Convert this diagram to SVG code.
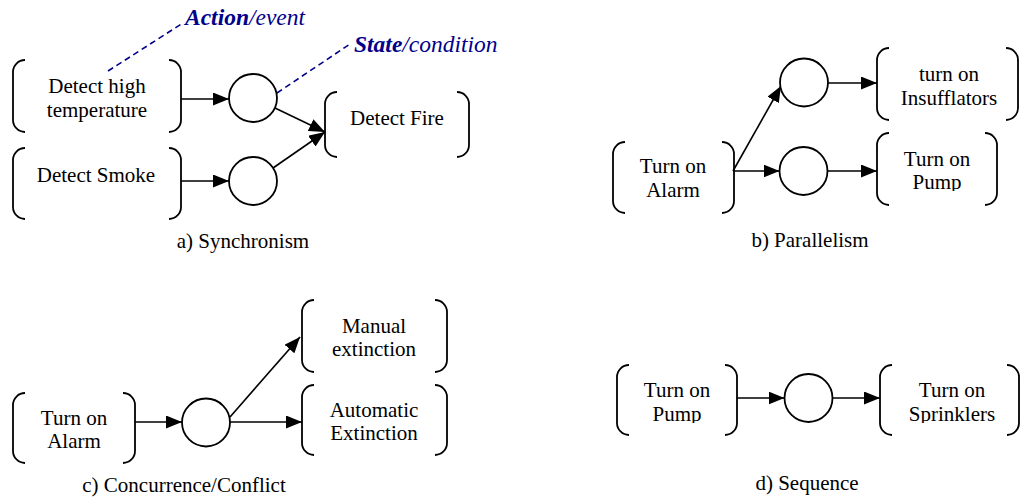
<svg xmlns="http://www.w3.org/2000/svg" width="1020" height="499" viewBox="0 0 1020 499" font-family="Liberation Serif, serif">
<style>
.br{fill:none;stroke:#000;stroke-width:1.8}
.pl{fill:#fff;stroke:#000;stroke-width:1.8}
.t{font-size:21px;fill:#000;text-anchor:middle}
.c{stroke:#000;stroke-width:1.6;fill:none;marker-end:url(#ah)}
.d{stroke:#00008B;stroke-width:1.6;stroke-dasharray:6 4;fill:none}
.n{font-size:23.5px;fill:#00008B;font-style:italic}
</style>
<defs>
<marker id="ah" markerUnits="userSpaceOnUse" markerWidth="17" markerHeight="13" refX="16" refY="6.5" orient="auto">
<path d="M0,0 L16,6.5 L0,13 z" fill="#000"/>
</marker>
<clipPath id="cpb"><rect x="870" y="130" width="140" height="61"/></clipPath>
<clipPath id="cpd1"><rect x="610" y="360" width="140" height="63"/></clipPath>
<clipPath id="cpd2"><rect x="875" y="360" width="145" height="63"/></clipPath>
</defs>
<rect width="1020" height="499" fill="#fff"/>

<g id="connectors">
<line class="c" x1="181" y1="99" x2="229" y2="99"/>
<line class="c" x1="181" y1="181" x2="229" y2="181"/>
<line class="c" x1="275" y1="108" x2="325" y2="132"/>
<line class="c" x1="273" y1="168" x2="325" y2="132"/>
<line class="c" x1="733" y1="171" x2="779.5" y2="171"/>
<line class="c" x1="733" y1="171" x2="781" y2="86"/>
<line class="c" x1="828" y1="83" x2="877" y2="83"/>
<line class="c" x1="827.5" y1="171" x2="877" y2="171"/>
<line class="c" x1="135" y1="422" x2="182" y2="422"/>
<line class="c" x1="230" y1="422" x2="302" y2="422"/>
<line class="c" x1="230" y1="417" x2="300" y2="337"/>
<line class="c" x1="737" y1="398" x2="784.5" y2="398"/>
<line class="c" x1="832.5" y1="398" x2="880" y2="398"/>
<line class="d" x1="108" y1="71" x2="183" y2="23"/>
<line class="d" x1="277" y1="93" x2="350" y2="44"/>
</g>

<g id="lbl-action"><text class="n" x="185" y="25"><tspan font-weight="bold">Action</tspan>/event</text></g>
<g id="lbl-state"><text class="n" x="354" y="52"><tspan font-weight="bold">State</tspan>/condition</text></g>

<g id="a-high-temp">
<path class="br" d="M25,60 A12,12 0 0 0 13,72 V120 A12,12 0 0 0 25,132"/>
<path class="br" d="M169,60 A12,12 0 0 1 181,72 V120 A12,12 0 0 1 169,132"/>
<text class="t" x="97" y="93">Detect high</text>
<text class="t" x="97" y="117">temperature</text>
</g>
<g id="a-smoke">
<path class="br" d="M25,148 A12,12 0 0 0 13,160 V207 A12,12 0 0 0 25,219"/>
<path class="br" d="M169,148 A12,12 0 0 1 181,160 V207 A12,12 0 0 1 169,219"/>
<text class="t" x="96" y="182">Detect Smoke</text>
</g>
<g id="a-fire">
<path class="br" d="M337,92 A12,12 0 0 0 325,104 V145 A12,12 0 0 0 337,157"/>
<path class="br" d="M457,92 A12,12 0 0 1 469,104 V145 A12,12 0 0 1 457,157"/>
<text class="t" x="397" y="125">Detect Fire</text>
</g>
<g id="a-p1"><circle class="pl" cx="253" cy="98" r="24"/></g>
<g id="a-p2"><circle class="pl" cx="253" cy="181" r="24"/></g>
<g id="cap-a"><text class="t" x="243" y="248">a) Synchronism</text></g>

<g id="b-alarm">
<path class="br" d="M625,142 A12,12 0 0 0 613,154 V201 A12,12 0 0 0 625,213"/>
<path class="br" d="M722,142 A12,12 0 0 1 734,154 V201 A12,12 0 0 1 722,213"/>
<text class="t" x="673" y="173">Turn on</text>
<text class="t" x="673" y="197">Alarm</text>
</g>
<g id="b-insuf">
<path class="br" d="M889,48 A12,12 0 0 0 877,60 V108 A12,12 0 0 0 889,120"/>
<path class="br" d="M1006,48 A12,12 0 0 1 1018,60 V108 A12,12 0 0 1 1006,120"/>
<text class="t" x="949" y="81">turn on</text>
<text class="t" x="949" y="105">Insufflators</text>
</g>
<g id="b-pump">
<path class="br" d="M889,133 A12,12 0 0 0 877,145 V193 A12,12 0 0 0 889,205"/>
<path class="br" d="M985,133 A12,12 0 0 1 997,145 V193 A12,12 0 0 1 985,205"/>
<g clip-path="url(#cpb)">
<text class="t" x="937" y="166">Turn on</text>
<text class="t" x="937" y="189">Pump</text>
</g>
</g>
<g id="b-p1"><circle class="pl" cx="804" cy="82.5" r="24"/></g>
<g id="b-p2"><circle class="pl" cx="803.5" cy="171" r="24"/></g>
<g id="cap-b"><text class="t" x="810" y="247">b) Parallelism</text></g>

<g id="c-alarm">
<path class="br" d="M25,393 A12,12 0 0 0 13,405 V451 A12,12 0 0 0 25,463"/>
<path class="br" d="M123,393 A12,12 0 0 1 135,405 V451 A12,12 0 0 1 123,463"/>
<text class="t" x="74" y="425">Turn on</text>
<text class="t" x="74" y="448">Alarm</text>
</g>
<g id="c-manual">
<path class="br" d="M314,300 A12,12 0 0 0 302,312 V360 A12,12 0 0 0 314,372"/>
<path class="br" d="M435,300 A12,12 0 0 1 447,312 V360 A12,12 0 0 1 435,372"/>
<text class="t" x="374" y="333">Manual</text>
<text class="t" x="374" y="356">extinction</text>
</g>
<g id="c-auto">
<path class="br" d="M314,385 A12,12 0 0 0 302,397 V443 A12,12 0 0 0 314,455"/>
<path class="br" d="M435,385 A12,12 0 0 1 447,397 V443 A12,12 0 0 1 435,455"/>
<text class="t" x="374" y="417">Automatic</text>
<text class="t" x="374" y="440">Extinction</text>
</g>
<g id="c-p1"><circle class="pl" cx="206" cy="422.5" r="24"/></g>
<g id="cap-c"><text class="t" x="184" y="492">c) Concurrence/Conflict</text></g>

<g id="d-pump">
<path class="br" d="M629,365 A12,12 0 0 0 617,377 V423 A12,12 0 0 0 629,435"/>
<path class="br" d="M725,365 A12,12 0 0 1 737,377 V423 A12,12 0 0 1 725,435"/>
<g clip-path="url(#cpd1)">
<text class="t" x="677" y="397">Turn on</text>
<text class="t" x="677" y="421">Pump</text>
</g>
</g>
<g id="d-sprink">
<path class="br" d="M892,365 A12,12 0 0 0 880,377 V423 A12,12 0 0 0 892,435"/>
<path class="br" d="M1007,365 A12,12 0 0 1 1019,377 V423 A12,12 0 0 1 1007,435"/>
<g clip-path="url(#cpd2)">
<text class="t" x="952" y="397">Turn on</text>
<text class="t" x="952" y="421">Sprinklers</text>
</g>
</g>
<g id="d-p1"><circle class="pl" cx="808.5" cy="398" r="24"/></g>
<g id="cap-d"><text class="t" x="807" y="490">d) Sequence</text></g>
</svg>
